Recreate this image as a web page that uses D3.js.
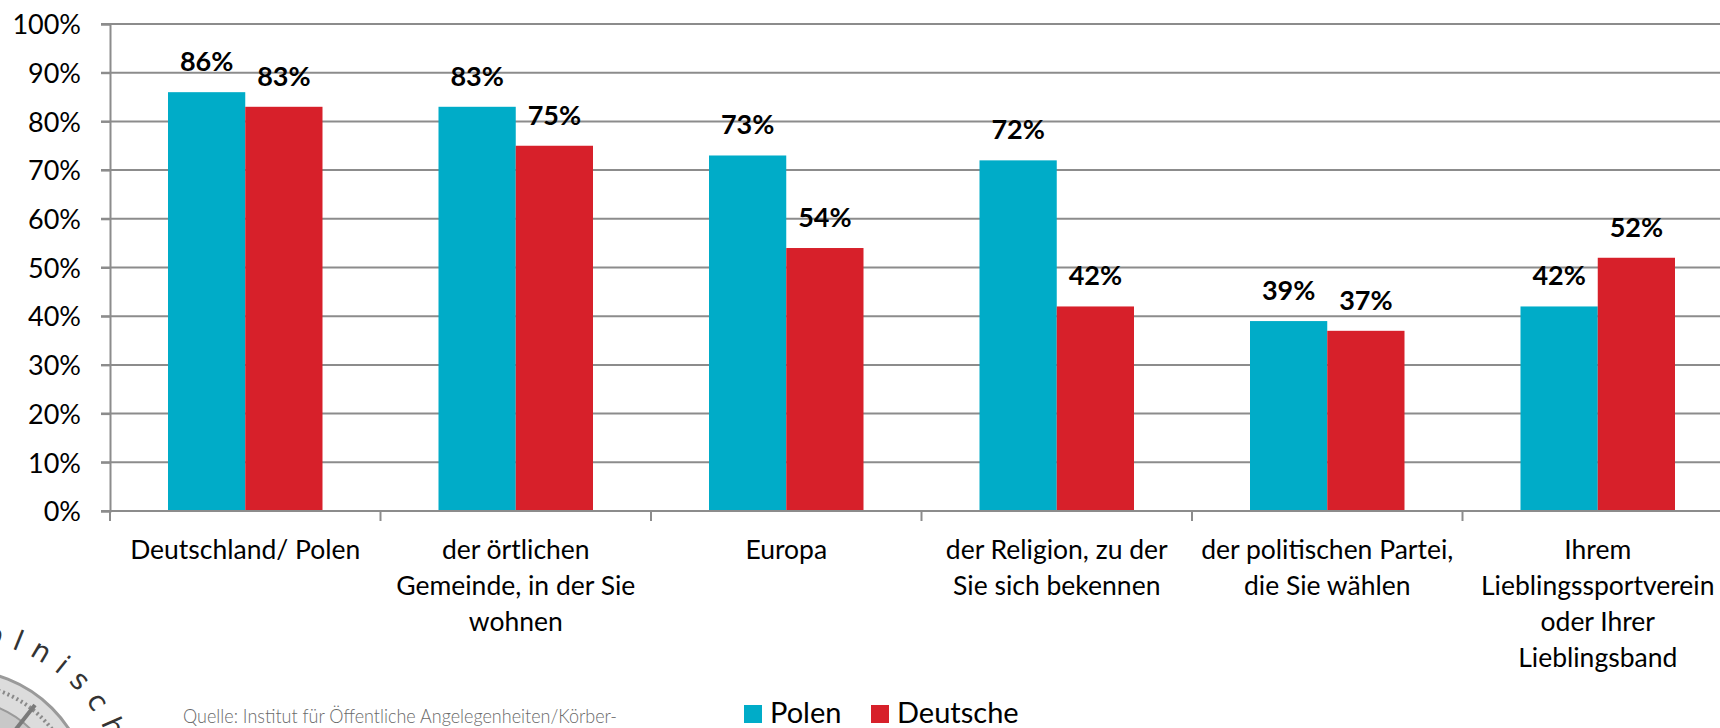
<!DOCTYPE html>
<html>
<head>
<meta charset="utf-8">
<script src="https://cdn.jsdelivr.net/npm/d3@7"></script>
<style>
  body { margin: 0; background: #fff; }
  svg { display: block; font-family: Lato, "Open Sans", sans-serif; }
</style>
</head>
<body>
<div id="chart"></div>
<script>
// data
var categories = [
  "Deutschland/ Polen",
  "der örtlichen Gemeinde, in der Sie wohnen",
  "Europa",
  "der Religion, zu der Sie sich bekennen",
  "der politischen Partei, die Sie wählen",
  "Ihrem Lieblingssportverein oder Ihrer Lieblingsband"
];
var categoryLines = [
  ["Deutschland/ Polen"],
  ["der örtlichen", "Gemeinde, in der Sie", "wohnen"],
  ["Europa"],
  ["der Religion, zu der", "Sie sich bekennen"],
  ["der politischen Partei,", "die Sie wählen"],
  ["Ihrem", "Lieblingssportverein", "oder Ihrer", "Lieblingsband"]
];
var seriesNames = ["Polen", "Deutsche"];
var polen = [86, 83, 73, 72, 39, 42];
var deutsche = [83, 75, 54, 42, 37, 52];
var yTicks = [0, 10, 20, 30, 40, 50, 60, 70, 80, 90, 100];

var colors = { "Polen": "#00acc8", "Deutsche": "#d7202a" };

var svgWidth = 1720;
var svgHeight = 728;

var margin = { top: 24, left: 110, bottom: 217 };
var plotHeight = svgHeight - margin.top - margin.bottom;
var step = 270.5;
var plotWidth = step * categories.length;

var svg = d3.select("#chart")
  .append("svg")
  .attr("width", svgWidth)
  .attr("height", svgHeight);

var rows = categories.map(function (c, i) {
  return { cat: c, lines: categoryLines[i], Polen: polen[i], Deutsche: deutsche[i] };
});

// scales
var x0 = d3.scaleBand()
  .domain(categories)
  .range([margin.left, margin.left + plotWidth]);

var x1 = d3.scaleBand()
  .domain(seriesNames)
  .range([58, step - 58]);

var y = d3.scaleLinear()
  .domain([0, 100])
  .range([margin.top + plotHeight, margin.top]);

// gridlines
svg.append("g")
  .selectAll("line")
  .data(yTicks.filter(d => d > 0))
  .enter()
  .append("line")
  .attr("x1", margin.left - 9)
  .attr("x2", margin.left + plotWidth)
  .attr("y1", d => y(d))
  .attr("y2", d => y(d))
  .attr("stroke", "#8c8c8c")
  .attr("stroke-width", 2);

// y axis
var yAxis = svg.append("g")
  .attr("transform", `translate(${margin.left}, 0)`)
  .call(d3.axisLeft(y).tickValues(yTicks).tickFormat(d => d + "%").tickSize(9).tickPadding(20));

yAxis.select(".domain").attr("stroke", "#8c8c8c").attr("stroke-width", 2);
yAxis.selectAll(".tick line").attr("stroke", "#8c8c8c").attr("stroke-width", 2);
yAxis.selectAll(".tick text")
  .attr("font-family", "Lato, sans-serif")
  .attr("font-size", "27px")
  .attr("fill", "#000")
  .attr("dy", "0.36em");

// bars
var groups = svg.append("g")
  .selectAll("g")
  .data(rows)
  .enter()
  .append("g")
  .attr("transform", d => `translate(${x0(d.cat)}, 0)`);

groups.selectAll("rect")
  .data(d => seriesNames.map(s => ({ key: s, value: d[s] })))
  .enter()
  .append("rect")
  .attr("x", d => x1(d.key))
  .attr("width", x1.bandwidth())
  .attr("y", d => y(d.value))
  .attr("height", d => y(0) - y(d.value))
  .attr("fill", d => colors[d.key]);

groups.selectAll("text.val")
  .data(d => seriesNames.map(s => ({ key: s, value: d[s] })))
  .enter()
  .append("text")
  .attr("class", "val")
  .attr("x", d => x1(d.key) + x1.bandwidth() / 2)
  .attr("y", d => y(d.value) - 21)
  .attr("text-anchor", "middle")
  .attr("font-size", "27px")
  .attr("font-weight", "bold")
  .attr("fill", "#000")
  .text(d => d.value + "%");

// x axis
var xAxis = svg.append("g")
  .attr("transform", `translate(0, ${y(0)})`);

xAxis.append("line")
  .attr("x1", margin.left - 9)
  .attr("x2", margin.left + plotWidth)
  .attr("stroke", "#8c8c8c")
  .attr("stroke-width", 2);

xAxis.selectAll("line.tick")
  .data(d3.range(categories.length + 1))
  .enter()
  .append("line")
  .attr("class", "tick")
  .attr("x1", d => margin.left + d * x0.step())
  .attr("x2", d => margin.left + d * x0.step())
  .attr("y1", 0)
  .attr("y2", 10)
  .attr("stroke", "#8c8c8c")
  .attr("stroke-width", 2);

xAxis.selectAll("text")
  .data(rows)
  .enter()
  .append("text")
  .attr("text-anchor", "middle")
  .attr("font-size", "26.5px")
  .attr("fill", "#000")
  .attr("transform", d => `translate(${x0(d.cat) + x0.bandwidth() / 2}, 48)`)
  .selectAll("tspan")
  .data(d => d.lines)
  .enter()
  .append("tspan")
  .attr("x", 0)
  .attr("y", (d, i) => i * 36)
  .text(d => d);

// legend
var legend = svg.append("g")
  .attr("transform", "translate(744, 705)");

var legendX = [0, 127];
seriesNames.forEach(function (s, i) {
  legend.append("rect")
    .attr("x", legendX[i])
    .attr("width", 18)
    .attr("height", 18)
    .attr("fill", colors[s]);
  legend.append("text")
    .attr("x", legendX[i] + 26)
    .attr("y", 18)
    .attr("font-size", "29px")
    .attr("fill", "#000")
    .text(s);
});

// source note
svg.append("text")
  .attr("x", 183)
  .attr("y", 723)
  .attr("font-size", "20px")
  .attr("font-weight", 300)
  .attr("fill", "#6a6a6a")
  .attr("textLength", 434)
  .attr("lengthAdjust", "spacingAndGlyphs")
  .text("Quelle: Institut für Öffentliche Angelegenheiten/Körber-");

// seal in the corner
var seal = svg.append("g").attr("transform", "translate(-40, 800)");
seal.append("circle").attr("r", 130).attr("fill", "#dcdcdc").attr("stroke", "#9a9a9a").attr("stroke-width", 3);
seal.append("circle").attr("r", 116).attr("fill", "none").attr("stroke", "#8a8a8a").attr("stroke-width", 4).attr("stroke-dasharray", "2 3");
seal.append("circle").attr("r", 100).attr("fill", "#c8c8c8").attr("stroke", "#9a9a9a").attr("stroke-width", 2);
seal.append("line").attr("x1", 0).attr("y1", 0).attr("x2", 75).attr("y2", -95).attr("stroke", "#7a7a7a").attr("stroke-width", 4);
seal.append("path")
  .attr("id", "sealArc")
  .attr("d", "M -160 0 A 160 160 0 1 1 160 0")
  .attr("fill", "none");
seal.append("text")
  .attr("font-family", "'DejaVu Sans', sans-serif")
  .attr("font-size", "28px")
  .attr("letter-spacing", "11px")
  .attr("fill", "#333")
  .append("textPath")
  .attr("href", "#sealArc")
  .attr("startOffset", 35)
  .text("Deutsch-Polnisches Barometer");
</script>
</body>
</html>
